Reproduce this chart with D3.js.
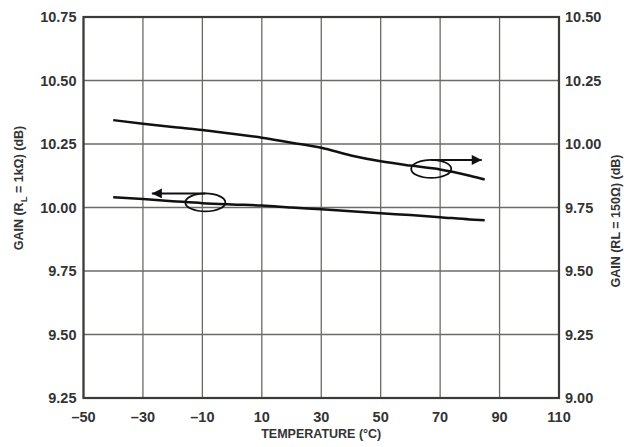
<!DOCTYPE html>
<html><head><meta charset="utf-8">
<script src="https://d3js.org/d3.v7.min.js"></script>
<style>body{margin:0;background:#fff}svg{display:block}text{font-family:"Liberation Sans",Arial,sans-serif;font-weight:bold;fill:#333}</style>
</head><body><svg id="c" width="624" height="447"></svg>
<script>
const temps = [-40,-30,-20,-10,0,10,20,30,40,50,60,70,80,85];
const gain1k = [10.04,10.033,10.025,10.017,10.012,10.008,10.0,9.993,9.985,9.977,9.97,9.962,9.953,9.95];
const gain150 = [10.094,10.08,10.067,10.055,10.04,10.025,10.005,9.985,9.955,9.932,9.915,9.90,9.875,9.86];
const xTicks = [-50,-30,-10,10,30,50,70,90,110];
const xTickLabels = ["–50","–30","–10","10","30","50","70","90","110"];
const yLeftTicks = [9.25,9.5,9.75,10.0,10.25,10.5,10.75];
const yRightTicks = [9.0,9.25,9.5,9.75,10.0,10.25,10.5];
// annotation markers (data coordinates)
const markerLeft = {t:-9, v:10.02, arrowTo:-27};   // left-axis series
const markerRight = {t:67, v:9.902, arrowTo:84};   // right-axis series

const svg = d3.select("#c");
const L=83.5, R=559, T=17, B=398;
const x = d3.scaleLinear().domain([-50,110]).range([L,R]);
const yL = d3.scaleLinear().domain([9.25,10.75]).range([B,T]);
const yR = d3.scaleLinear().domain([9.0,10.5]).range([B,T]);

// grid
const g = svg.append("g");
g.selectAll("line.v").data(xTicks).join("line")
  .attr("x1",d=>x(d)).attr("x2",d=>x(d)).attr("y1",T).attr("y2",B)
  .attr("stroke","#6b6b66").attr("stroke-width",1.3);
g.selectAll("line.h").data(yLeftTicks).join("line")
  .attr("y1",d=>yL(d)).attr("y2",d=>yL(d)).attr("x1",L).attr("x2",R)
  .attr("stroke","#6b6b66").attr("stroke-width",1.3);
svg.append("rect").attr("x",L).attr("y",T).attr("width",R-L).attr("height",B-T)
  .attr("fill","none").attr("stroke","#3a3a36").attr("stroke-width",2.2);

// curves
const line1 = d3.line().x((d,i)=>x(temps[i])).y(d=>yL(d)).curve(d3.curveMonotoneX);
const line2 = d3.line().x((d,i)=>x(temps[i])).y(d=>yR(d)).curve(d3.curveMonotoneX);
svg.append("path").attr("d",line1(gain1k)).attr("fill","none").attr("stroke","#111").attr("stroke-width",2.5);
svg.append("path").attr("d",line2(gain150)).attr("fill","none").attr("stroke","#111").attr("stroke-width",2.5);

// markers
svg.append("defs").append("marker").attr("id","ah").attr("viewBox","0 0 10 10")
  .attr("refX",10).attr("refY",5).attr("markerWidth",14).attr("markerHeight",10)
  .attr("markerUnits","userSpaceOnUse").attr("orient","auto")
  .append("path").attr("d","M0,0 L10,5 L0,10 Z").attr("fill","#111");
function marker(m, ys){
  const cx=x(m.t), cy=ys(m.v);
  svg.append("ellipse").attr("cx",cx).attr("cy",cy).attr("rx",20).attr("ry",9)
    .attr("fill","none").attr("stroke","#111").attr("stroke-width",1.8);
  svg.append("line").attr("x1",cx).attr("y1",cy-9).attr("x2",x(m.arrowTo)).attr("y2",cy-9)
    .attr("stroke","#111").attr("stroke-width",2).attr("marker-end","url(#ah)");
}
marker(markerLeft, yL);
marker(markerRight, yR);

// tick labels
svg.selectAll("text.xl").data(xTicks).join("text")
  .attr("x",d=>x(d)).attr("y",422).attr("text-anchor","middle").attr("font-size",14.5)
  .text((d,i)=>xTickLabels[i]);
svg.selectAll("text.yl").data(yLeftTicks).join("text")
  .attr("x",76.5).attr("y",d=>yL(d)+5).attr("text-anchor","end").attr("font-size",14.5)
  .text(d=>d3.format(".2f")(d));
svg.selectAll("text.yr").data(yRightTicks).join("text")
  .attr("x",565).attr("y",d=>yR(d)+5).attr("text-anchor","start").attr("font-size",14.5)
  .text(d=>d3.format(".2f")(d));

// titles
svg.append("text").attr("x",(L+R)/2).attr("y",438).attr("text-anchor","middle").attr("font-size",12.5)
  .text("TEMPERATURE (°C)");
const lt = svg.append("text").attr("transform","translate(23,188) rotate(-90)").attr("text-anchor","middle").attr("font-size",12.5);
lt.append("tspan").text("GAIN (R");
lt.append("tspan").attr("dy",4).attr("font-size",9.5).text("L");
lt.append("tspan").attr("dy",-4).text(" = 1kΩ) (dB)");
svg.append("text").attr("transform","translate(620,221) rotate(-90)").attr("text-anchor","middle").attr("font-size",12.5)
  .text("GAIN (RL = 150Ω) (dB)");
</script></body></html>
